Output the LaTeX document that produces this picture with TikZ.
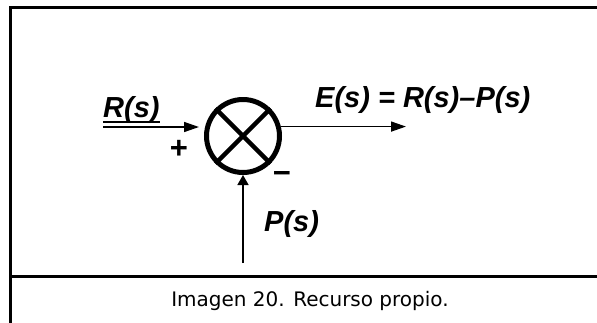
\documentclass[tikz,border=0pt]{standalone}
\usepackage{fontspec}
\usetikzlibrary{arrows.meta}
\newfontfamily\lblfont{Liberation Sans}
\newfontfamily\capfont{DejaVu Sans}
\begin{document}
\begin{tikzpicture}[x=1pt,y=-1pt,
  frame/.style={line width=3pt, line cap=rect},
  conn/.style={line width=1.5pt, -{Triangle[length=15pt,width=10pt]}},
  lbl/.style={inner sep=0pt, font=\lblfont\bfseries\itshape\fontsize{29}{34}\selectfont},
  sgn/.style={inner sep=0pt, font=\lblfont\bfseries\fontsize{31}{34}\selectfont},
  captext/.style={inner sep=0pt, font=\capfont\fontsize{20}{24}\selectfont}]
\useasboundingbox (0,0) rectangle (597,322);
% frame
\draw[frame] (598,7) -- (10,7) -- (10,323);
\draw[frame] (10,276) -- (598,276);
% summing junction
\node[circle, draw, line width=5pt, minimum size=73pt, inner sep=0pt] (sum) at (243,136) {};
\draw[line width=4.5pt] (sum.north west) -- (sum.south east);
\draw[line width=4.5pt] (sum.north east) -- (sum.south west);
% connectors
\coordinate (rin) at (103,127);
\coordinate (rtip) at (199,127);
\coordinate (eout) at (406,127);
\coordinate (pin) at (243,263);
\draw[conn] (rin) -- (rtip);
\draw[conn] (sum.14) -- (sum.14 -| eout);
\draw[conn, -{Triangle[length=10pt,width=11pt]}] (pin) -- (sum.south);
% labels
\node[lbl, anchor=base west] (rl) at (103,117) {R(s)};
\draw[line width=1.5pt] ([yshift=-5pt]rl.base west) -- ([yshift=-5pt]rl.base east);
\node[lbl, anchor=base west] (el) at (315,107) {E(s) = R(s)–P(s)};
\node[lbl, anchor=base west] (pl) at (264,231) {P(s)};
\node[sgn] (plus) at (179,149) {+};
\node[sgn] (minus) at (282,177) {−};
% caption
\node[captext, anchor=base] (caption) at (310,306.5) {Imagen 20. Recurso propio.};
\end{tikzpicture}
\end{document}
